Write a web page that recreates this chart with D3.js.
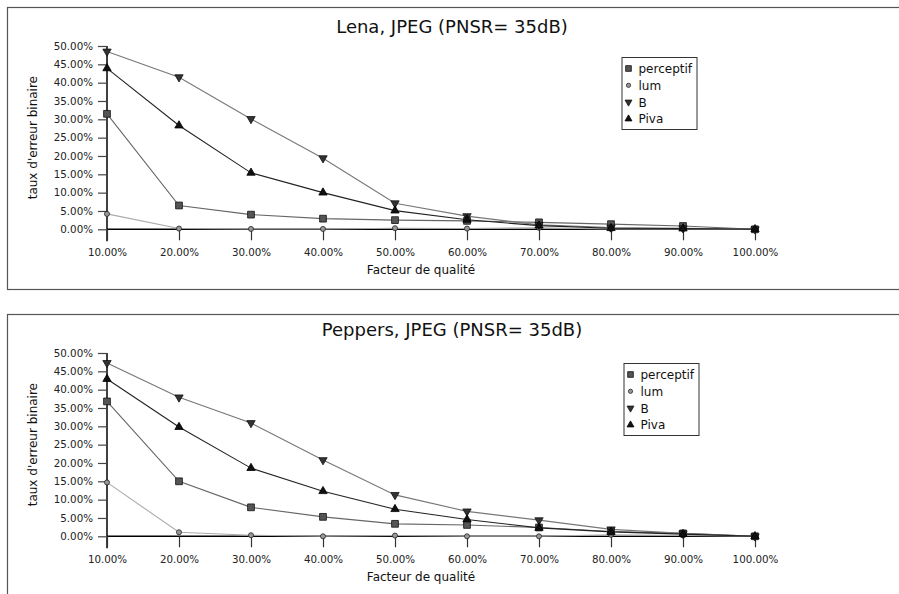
<!DOCTYPE html>
<html>
<head>
<meta charset="utf-8">
<script src="https://cdn.jsdelivr.net/npm/d3@7"></script>
<style>
  body { margin: 0; background: #fff; }
  svg { display: block; font-family: "DejaVu Sans", sans-serif; }
</style>
</head>
<body>
<svg id="chart" width="899" height="594"></svg>
<script>
const qualite = [10, 20, 30, 40, 50, 60, 70, 80, 90, 100];
const yTicks = [0, 5, 10, 15, 20, 25, 30, 35, 40, 45, 50];
const seriesNames = ['perceptif', 'lum', 'B', 'Piva'];

// Lena
const lenaPerceptif = [31.5, 6.5, 4.0, 2.9, 2.5, 2.3, 1.9, 1.4, 0.9, 0];
const lenaLum = [4.2, 0.2, 0.1, 0.1, 0.3, 0.2, 0.4, 0.1, 0.1, 0];
const lenaB = [48.5, 41.5, 30.1, 19.4, 7.1, 3.6, 1.2, 0.5, 0.3, 0];
const lenaPiva = [43.9, 28.3, 15.4, 10.0, 5.1, 2.6, 1.0, 0.3, 0.2, 0];

// Peppers
const peppersPerceptif = [36.8, 15.0, 7.9, 5.3, 3.4, 3.1, 2.4, 1.3, 0.8, 0];
const peppersLum = [14.7, 1.1, 0.3, 0, 0.2, 0, 0, 0.4, 0.2, 0];
const peppersB = [47.3, 37.9, 30.9, 20.8, 11.3, 6.8, 4.4, 1.9, 0.8, 0];
const peppersPiva = [42.9, 29.8, 18.6, 12.3, 7.4, 4.6, 2.3, 1.2, 0.6, 0];

const styles = {
  perceptif: { line: '#666', fill: '#555', stroke: '#111', sym: d3.symbolSquare, size: 46 },
  lum: { line: '#aaa', fill: '#999', stroke: '#222', sym: d3.symbolCircle, size: 20 },
  B: { line: '#777', fill: '#333', stroke: '#111', sym: 'down', size: 30 },
  Piva: { line: '#222', fill: '#111', stroke: '#000', sym: d3.symbolTriangle, size: 30 }
};

const svg = d3.select('#chart');
const pct = d => d3.format('.2f')(d) + '%';

function marker(g, name, k) {
  const s = styles[name];
  const sym = s.sym === 'down' ? d3.symbolTriangle : s.sym;
  const p = g.append('path')
    .attr('d', d3.symbol().type(sym).size(s.size * (k || 1))())
    .attr('fill', s.fill)
    .attr('stroke', s.stroke)
    .attr('stroke-width', 0.8);
  if (s.sym === 'down') p.attr('transform', 'rotate(180)');
  return p;
}

function drawChart(top, title, titleY, data, legendX, legendY) {
  const plotTop = top + 39, plotBottom = top + 222.3;
  const x = d3.scaleLinear().domain([10, 100]).range([107, 755]);
  const y = d3.scaleLinear().domain([0, 50]).range([plotBottom, plotTop]);

  // frame
  svg.append('rect')
    .attr('x', 7.5).attr('y', top + 0.5)
    .attr('width', 900).attr('height', 282)
    .attr('fill', 'none').attr('stroke', '#555').attr('stroke-width', 1.2);

  svg.append('text')
    .attr('x', 452).attr('y', titleY)
    .attr('text-anchor', 'middle')
    .attr('font-size', 18).attr('fill', '#111')
    .text(title);

  // y axis
  const yAxis = svg.append('g')
    .attr('transform', 'translate(107,0)')
    .call(d3.axisLeft(y).tickValues(yTicks).tickFormat(pct).tickSize(9).tickPadding(5));
  yAxis.select('.domain').attr('stroke', '#000').attr('stroke-width', 1.5)
    .attr('d', `M0,${plotTop}V${plotBottom + 12}`);
  yAxis.selectAll('.tick line').attr('stroke', '#444').attr('stroke-width', 1.2);
  yAxis.selectAll('text').attr('font-size', 10.3).attr('fill', '#222')
    .attr('font-family', '"DejaVu Sans", sans-serif');

  // x axis
  const xAxis = svg.append('g')
    .attr('transform', `translate(0,${plotBottom})`)
    .call(d3.axisBottom(x).tickValues(qualite).tickFormat(pct).tickSize(11).tickPadding(8));
  xAxis.select('.domain').attr('stroke', '#000').attr('stroke-width', 1.5)
    .attr('d', `M${x(10)},0H${x(100)}`);
  xAxis.selectAll('.tick line').attr('stroke', '#333').attr('stroke-width', 1.2);
  xAxis.selectAll('text').attr('font-size', 10.3).attr('fill', '#222')
    .attr('font-family', '"DejaVu Sans", sans-serif');

  svg.append('text')
    .attr('x', 421).attr('y', plotBottom + 45)
    .attr('text-anchor', 'middle')
    .attr('font-size', 12).attr('fill', '#111')
    .text('Facteur de qualité');

  svg.append('text')
    .attr('transform', `translate(37,${(plotTop + plotBottom) / 2}) rotate(-90)`)
    .attr('text-anchor', 'middle')
    .attr('font-size', 12).attr('fill', '#111')
    .text("taux d'erreur binaire");

  const line = d3.line().x((d, i) => x(qualite[i])).y(d => y(d));
  ['lum', 'perceptif', 'B', 'Piva'].forEach(name => {
    svg.append('path')
      .datum(data[name])
      .attr('d', line)
      .attr('fill', 'none')
      .attr('stroke', styles[name].line)
      .attr('stroke-width', 1.1);
  });
  ['lum', 'perceptif', 'B', 'Piva'].forEach(name => {
    data[name].forEach((v, i) => {
      const g = svg.append('g').attr('transform', `translate(${x(qualite[i])},${y(v)})`);
      marker(g, name);
    });
  });

  // legend
  const lg = svg.append('g').attr('transform', `translate(${legendX},${legendY})`);
  lg.append('rect')
    .attr('x', 0.5).attr('y', 0.5).attr('width', 75).attr('height', 72)
    .attr('fill', '#fff').attr('stroke', '#333').attr('stroke-width', 1);
  seriesNames.forEach((name, i) => {
    const row = lg.append('g').attr('transform', `translate(7,${11.5 + i * 16.8})`);
    marker(row.append('g'), name, 0.7);
    row.append('text')
      .attr('x', 10).attr('y', 4.5)
      .attr('font-size', 12).attr('fill', '#111')
      .text(name);
  });
}

drawChart(7, 'Lena, JPEG (PNSR= 35dB)', 33,
  { perceptif: lenaPerceptif, lum: lenaLum, B: lenaB, Piva: lenaPiva }, 621.5, 57);
drawChart(314, 'Peppers, JPEG (PNSR= 35dB)', 336,
  { perceptif: peppersPerceptif, lum: peppersLum, B: peppersB, Piva: peppersPiva }, 623.5, 363);
</script>
</body>
</html>
